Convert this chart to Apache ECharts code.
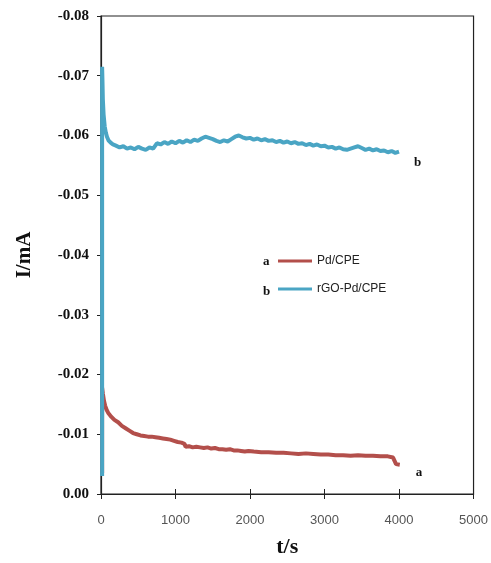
<!DOCTYPE html>
<html>
<head>
<meta charset="utf-8">
<script src="https://cdn.jsdelivr.net/npm/echarts@6/dist/echarts.min.js"></script>
<style>html,body{margin:0;padding:0;background:#fff;overflow:hidden}#c{width:491px;height:563px}</style>
</head>
<body>
<div id="c"></div>
<script>
// ---- data ----
const xTicks = [0, 1000, 2000, 3000, 4000, 5000];
const yTicks = [0.00, -0.01, -0.02, -0.03, -0.04, -0.05, -0.06, -0.07, -0.08];
const seriesNames = ['Pd/CPE', 'rGO-Pd/CPE'];
const seriesTags = ['a', 'b'];

// a: Pd/CPE
const redT = [15, 15, 25, 40, 55, 75, 100, 140, 180, 230, 280, 330, 380, 430, 480, 530, 580, 630, 680, 730, 780, 830, 880, 930, 980, 1030, 1080, 1120, 1135, 1180, 1230, 1280, 1330, 1380, 1430, 1480, 1530, 1580, 1630, 1680, 1730, 1780, 1830, 1880, 1930, 1980, 2050, 2150, 2250, 2350, 2450, 2550, 2650, 2750, 2850, 2950, 3050, 3150, 3250, 3350, 3450, 3550, 3650, 3750, 3850, 3920, 3960, 4010];
const redI = [-0.0035, -0.0178, -0.0168, -0.0156, -0.0148, -0.0141, -0.0135, -0.0129, -0.0124, -0.0120, -0.0114, -0.0110, -0.0106, -0.0102, -0.0100, -0.0098, -0.0097, -0.0096, -0.0096, -0.0095, -0.0094, -0.0093, -0.0092, -0.0091, -0.0089, -0.0087, -0.0086, -0.0084, -0.0079, -0.0080, -0.0078, -0.0079, -0.0078, -0.0077, -0.0078, -0.0076, -0.0077, -0.0075, -0.0075, -0.0074, -0.0075, -0.0073, -0.0073, -0.0072, -0.0071, -0.0072, -0.0071, -0.0070, -0.0070, -0.0069, -0.0069, -0.0068, -0.0067, -0.0068, -0.0067, -0.0066, -0.0066, -0.0065, -0.0065, -0.0064, -0.0065, -0.0064, -0.0064, -0.0063, -0.0063, -0.0061, -0.0050, -0.0049];

// b: rGO-Pd/CPE
const cyanT = [15, 15, 20, 25, 35, 50, 65, 80, 100, 130, 160, 200, 250, 300, 350, 400, 450, 500, 550, 600, 650, 700, 750, 800, 850, 900, 950, 1000, 1050, 1100, 1150, 1200, 1250, 1300, 1350, 1400, 1450, 1500, 1550, 1600, 1650, 1700, 1750, 1800, 1850, 1900, 1950, 2000, 2050, 2100, 2150, 2200, 2250, 2300, 2350, 2400, 2450, 2500, 2550, 2600, 2650, 2700, 2750, 2800, 2850, 2900, 2950, 3000, 3050, 3100, 3150, 3200, 3250, 3300, 3350, 3400, 3450, 3500, 3550, 3600, 3650, 3700, 3750, 3800, 3850, 3900, 3950, 4000];
const cyanI = [-0.0030, -0.0715, -0.0690, -0.0660, -0.0635, -0.0615, -0.0605, -0.0598, -0.0592, -0.0588, -0.0585, -0.0583, -0.0580, -0.0582, -0.0578, -0.0580, -0.0577, -0.0581, -0.0578, -0.0576, -0.0580, -0.0578, -0.0587, -0.0585, -0.0589, -0.0586, -0.0590, -0.0587, -0.0591, -0.0588, -0.0592, -0.0589, -0.0593, -0.0591, -0.0595, -0.0598, -0.0596, -0.0594, -0.0591, -0.0589, -0.0592, -0.0590, -0.0594, -0.0598, -0.0600, -0.0597, -0.0595, -0.0596, -0.0593, -0.0595, -0.0592, -0.0594, -0.0591, -0.0592, -0.0589, -0.0591, -0.0588, -0.0590, -0.0587, -0.0589, -0.0586, -0.0587, -0.0584, -0.0586, -0.0583, -0.0585, -0.0582, -0.0583, -0.0580, -0.0581, -0.0578, -0.0580, -0.0577, -0.0576, -0.0578, -0.0580, -0.0582, -0.0579, -0.0576, -0.0578, -0.0575, -0.0577, -0.0574, -0.0575, -0.0572, -0.0574, -0.0571, -0.0573];

const colors = ['#b34f4b', '#4aa5c4'];

const redData = redT.map((t, i) => [t, redI[i]]);
const cyanData = cyanT.map((t, i) => [t, cyanI[i]]);

const chart = echarts.init(document.getElementById('c'), null, {renderer: 'canvas', width: 491, height: 563});
const serif = '"Liberation Serif", "DejaVu Serif", serif';
const sans = '"Liberation Sans", Arial, sans-serif';

chart.setOption({
  animation: false,
  backgroundColor: '#fff',
  grid: {left: 101, top: 16, width: 373, height: 486, show: true, borderColor: '#222', borderWidth: 1.2, backgroundColor: 'transparent'},
  legend: {
    data: seriesNames,
    orient: 'vertical',
    left: 278, top: 255, padding: 0,
    itemWidth: 34, itemHeight: 3, itemGap: 16,
    icon: 'rect',
    textStyle: {fontFamily: sans, fontSize: 12, color: '#222'}
  },
  xAxis: [{
    type: 'value', min: xTicks[0], max: xTicks[xTicks.length - 1], interval: 1000,
    splitLine: {show: false},
    axisLine: {onZero: false, lineStyle: {color: '#222', width: 1.2}},
    axisTick: {show: true, length: 5, lineStyle: {color: '#222'}},
    axisLabel: {margin: 20, fontFamily: sans, fontSize: 13, color: '#555', formatter: v => String(v)},
    name: 't/s', nameLocation: 'middle', nameGap: 42,
    nameTextStyle: {fontFamily: serif, fontWeight: 'bold', fontSize: 22, color: '#111'}
  }, {
    type: 'value', min: xTicks[0], max: xTicks[xTicks.length - 1], interval: 1000,
    position: 'bottom', splitLine: {show: false},
    axisLine: {show: false}, axisLabel: {show: false},
    axisTick: {show: true, inside: true, length: 5, lineStyle: {color: '#222'}}
  }],
  yAxis: {
    type: 'value', min: yTicks[yTicks.length - 1], max: yTicks[0], interval: 0.01, inverse: true,
    splitLine: {show: false},
    axisLine: {onZero: false, lineStyle: {color: '#222', width: 1.2}},
    axisTick: {show: true, length: 4, lineStyle: {color: '#222'}},
    axisLabel: {margin: 12, fontFamily: serif, fontWeight: 'bold', fontSize: 15, color: '#111',
      formatter: v => (Math.abs(v) < 1e-9 ? 0 : v).toFixed(2)},
    name: 'I/mA', nameLocation: 'middle', nameGap: 66,
    nameTextStyle: {fontFamily: serif, fontWeight: 'bold', fontSize: 21, color: '#111'}
  },
  graphic: [
    {type: 'text', left: 263, top: 255, style: {text: seriesTags[0], font: 'bold 13px ' + serif, fill: '#111'}},
    {type: 'text', left: 263, top: 285, style: {text: seriesTags[1], font: 'bold 13px ' + serif, fill: '#111'}}
  ],
  series: [{
    name: seriesNames[0], type: 'line', data: redData, xAxisIndex: 0,
    showSymbol: false, symbol: 'none', color: colors[0],
    lineStyle: {width: 4, color: colors[0]},
    endLabel: {show: true, formatter: seriesTags[0], offset: [8, 8], fontFamily: serif, fontWeight: 'bold', fontSize: 13, color: '#111'}
  }, {
    name: seriesNames[1], type: 'line', data: cyanData, xAxisIndex: 0,
    showSymbol: false, symbol: 'none', color: colors[1],
    lineStyle: {width: 4, color: colors[1]},
    endLabel: {show: true, formatter: seriesTags[1], offset: [7, 11], fontFamily: serif, fontWeight: 'bold', fontSize: 13, color: '#111'}
  }]
});
</script>
</body>
</html>
